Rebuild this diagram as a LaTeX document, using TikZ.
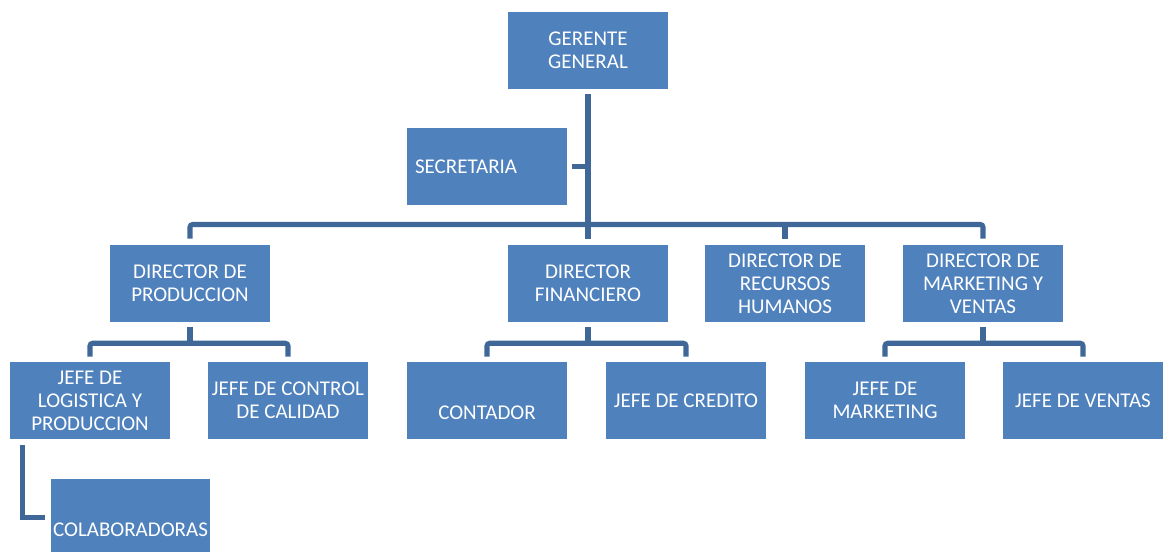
\documentclass[tikz,border=0pt]{standalone}
\usepackage{fontspec}
\setmainfont{Carlito}
\usepackage{tikz}
\usetikzlibrary{positioning, calc}
\usepackage{xcolor}
\definecolor{boxblue}{HTML}{4F81BD}
\definecolor{linkblue}{HTML}{3F6899}

\tikzset{
  orgbox/.style={rectangle, fill=boxblue, text=white, minimum width=120pt,
    minimum height=57.75pt, inner xsep=1pt, inner ysep=4pt, align=center,
    font=\fontsize{15.75}{17.25}\selectfont},
  link/.style={draw=linkblue, line width=3.8pt}
}

\begin{document}
\begin{tikzpicture}[x=0.75pt, y=-0.75pt]
\useasboundingbox (0,0) rectangle (1168,551);
% top level
\node[orgbox] (gg) at (588,50.5) {GERENTE\\GENERAL};
\node[orgbox, inner xsep=6pt, text width=108pt, align=left] (sec) at (487,166.5) {SECRETARIA};
% directors
\node[orgbox] (dp)  at (190,283.5) {DIRECTOR DE\\PRODUCCION};
\node[orgbox] (df)  at (588,283.5) {DIRECTOR\\FINANCIERO};
\node[orgbox] (drh) at (785,283.5) {DIRECTOR DE\\RECURSOS\\HUMANOS};
\node[orgbox] (dmv) at (983,283.5) {DIRECTOR DE\\MARKETING Y\\VENTAS};
% jefes
\node[orgbox] (jl)   at (90,400.5)   {JEFE DE\\LOGISTICA Y\\PRODUCCION};
\node[orgbox] (jc)   at (288,400.5)  {JEFE DE CONTROL\\DE CALIDAD};
\node[orgbox] (cont) at (487,400.5)  {\strut\\CONTADOR};
\node[orgbox] (jcr)  at (686,400.5)  {JEFE DE CREDITO};
\node[orgbox] (jm)   at (885,400.5)  {JEFE DE\\MARKETING};
\node[orgbox] (jv)   at (1083,400.5) {JEFE DE VENTAS};
\node[orgbox, minimum width=119pt] (col) at (130.5,517.5) {\strut\\COLABORADORAS};

\coordinate (bus) at (588,224.5);
% gerente -> directores
\draw[link] ($(gg.south)+(0,5)$) -- ($(df.north)+(0,-6)$);
\draw[link] ($(sec.east)+(5,0)$) -- (sec.east -| gg.south);
\draw[link, rounded corners=2pt] ($(dp.north)+(0,-6)$) |- (bus) -| ($(dmv.north)+(0,-6)$);
\draw[link] ($(drh.north)+(0,-6)$) -- (drh.north |- bus);
% directores -> jefes
\draw[link] ($(dp.south)+(0,5)$) -- ($(dp.south)+(0,21)$);
\draw[link, rounded corners=2pt] ($(jl.north)+(0,-5)$) |- ($(dp.south)+(0,21)$) -| ($(jc.north)+(0,-5)$);
\draw[link] ($(df.south)+(0,5)$) -- ($(df.south)+(0,21)$);
\draw[link, rounded corners=2pt] ($(cont.north)+(0,-5)$) |- ($(df.south)+(0,21)$) -| ($(jcr.north)+(0,-5)$);
\draw[link] ($(dmv.south)+(0,5)$) -- ($(dmv.south)+(0,21)$);
\draw[link, rounded corners=2pt] ($(jm.north)+(0,-5)$) |- ($(dmv.south)+(0,21)$) -| ($(jv.north)+(0,-5)$);
% jefe de logistica -> colaboradoras
\draw[link] ($(jl.south west)+(13,6)$) |- ($(col.west)+(-6,0)$);
\end{tikzpicture}
\end{document}
